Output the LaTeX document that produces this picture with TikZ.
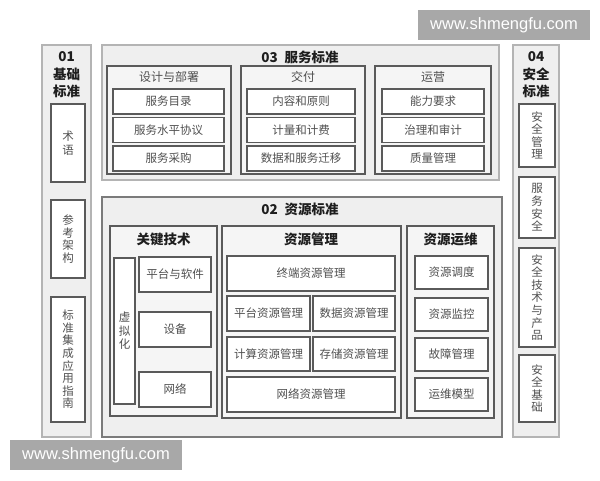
\documentclass[tikz,border=0pt]{standalone}
\usepackage{fontspec}
\setmainfont{Noto Sans CJK SC}
\newfontfamily\wmfont{Liberation Sans}
\definecolor{panelfill}{HTML}{EFEFEF}
\definecolor{paneldraw}{HTML}{B4B4B4}
\definecolor{groupfill}{HTML}{F5F5F5}
\definecolor{boxdraw}{HTML}{5A5A5A}
\definecolor{itemtext}{HTML}{505050}
\definecolor{titletext}{HTML}{1E1E1E}
\definecolor{wmfill}{HTML}{A8A8A8}
\newcommand\bx[7]{\node[#1, minimum width={(#5-#3)*1pt}, minimum height={(#6-#4)*1pt}] (#2) at ({(#3+#5)/2},{(#4+#6)/2}) {#7};}
\tikzset{
  panel/.style={draw=paneldraw, fill=panelfill, line width=1.4pt, inner sep=0pt},
  panel2/.style={draw=boxdraw!80, fill=panelfill, line width=1.4pt, inner sep=0pt},
  group/.style={draw=boxdraw, fill=groupfill, line width=1.2pt, inner sep=0pt},
  item/.style={draw=boxdraw, fill=white, line width=1.2pt, inner sep=0pt, text=itemtext, font=\fontsize{11.5}{12.5}\selectfont},
  vitem/.style={item, align=center, font=\fontsize{11.5}{12.6}\selectfont},
  ptitle/.style={text=titletext, font=\bfseries\fontsize{13.5}{15}\selectfont, inner sep=0pt, align=center},
  gtitle/.style={text=itemtext, font=\fontsize{12}{13}\selectfont, inner sep=0pt},
  btitle/.style={text=titletext, font=\bfseries\fontsize{13.5}{15}\selectfont, inner sep=0pt},
  wm/.style={fill=wmfill, text=white, font=\wmfont\fontsize{16.5}{18}\selectfont, inner sep=0pt}
}
\begin{document}
\begin{tikzpicture}[x=1pt,y=-1pt]
\useasboundingbox[fill=white] (0,0) rectangle (600,480);
% 01 column
\bx{panel}{p01}{42}{45}{91}{437}{}
\node[ptitle, font=\bfseries\fontsize{13.5}{17.5}\selectfont] (t01) at (66.5,75) {01\\基础\\标准};
\bx{vitem}{a1}{51}{104}{85}{182}{术\\[1pt]语}
\bx{vitem}{a2}{51}{200}{85}{278}{参\\考\\架\\构}
\bx{vitem}{a3}{51}{297}{85}{422}{标\\准\\集\\成\\应\\用\\指\\南}
% 04 column
\bx{panel}{p04}{513}{45}{559}{437}{}
\node[ptitle, font=\bfseries\fontsize{13.5}{17.5}\selectfont] (t04) at (536,75) {04\\安全\\标准};
\bx{vitem}{s1}{519}{104}{555}{167}{安\\全\\管\\理}
\bx{vitem}{s2}{519}{177}{555}{238}{服\\务\\安\\全}
\bx{vitem}{s3}{519}{248}{555}{347}{安\\全\\技\\术\\与\\产\\品}
\bx{vitem}{s4}{519}{355}{555}{422}{安\\全\\基\\础}
% 03 service standards
\bx{panel}{p03}{102}{45}{499}{180}{}
\node[ptitle] (t03) at (300,57) {03\hspace{7pt}服务标准};
\bx{group}{g1}{107}{66}{231}{174}{}
\node[gtitle] (g1t) at (169,77) {设计与部署};
\bx{item}{g1a}{113}{89}{224}{114}{服务目录}
\bx{item}{g1b}{113}{117.5}{224}{142.5}{服务水平协议}
\bx{item}{g1c}{113}{146}{224}{171}{服务采购}
\bx{group}{g2}{241}{66}{365}{174}{}
\node[gtitle] (g2t) at (303,77) {交付};
\bx{item}{g2a}{247}{89}{355}{114}{内容和原则}
\bx{item}{g2b}{247}{117.5}{355}{142.5}{计量和计费}
\bx{item}{g2c}{247}{146}{355}{171}{数据和服务迁移}
\bx{group}{g3}{375}{66}{491}{174}{}
\node[gtitle] (g3t) at (433,77) {运营};
\bx{item}{g3a}{382}{89}{484}{114}{能力要求}
\bx{item}{g3b}{382}{117.5}{484}{142.5}{治理和审计}
\bx{item}{g3c}{382}{146}{484}{171}{质量管理}
% 02 resource standards
\bx{panel2}{p02}{102}{197}{502}{437}{}
\node[ptitle] (t02) at (300,209) {02\hspace{7pt}资源标准};
\bx{group}{k}{110}{226}{217}{416}{}
\node[btitle] (kt) at (163.5,239) {关键技术};
\bx{vitem}{k0}{114}{258}{135}{404}{虚\\[1pt]拟\\[1pt]化}
\bx{item}{k1}{139}{257}{211}{292}{平台与软件}
\bx{item}{k2}{139}{312}{211}{347}{设备}
\bx{item}{k3}{139}{372}{211}{407}{网络}
\bx{group}{r}{222}{226}{401}{418}{}
\node[btitle] (rt) at (311,239) {资源管理};
\bx{item}{r1}{227}{256}{395}{291}{终端资源管理}
\bx{item}{r2}{227}{296}{310}{331}{平台资源管理}
\bx{item}{r3}{313}{296}{395}{331}{数据资源管理}
\bx{item}{r4}{227}{337}{310}{371}{计算资源管理}
\bx{item}{r5}{313}{337}{395}{371}{存储资源管理}
\bx{item}{r6}{227}{377}{395}{412}{网络资源管理}
\bx{group}{o}{407}{226}{494}{418}{}
\node[btitle] (ot) at (450.5,239) {资源运维};
\bx{item}{o1}{415}{256}{488}{289}{资源调度}
\bx{item}{o2}{415}{298}{488}{331}{资源监控}
\bx{item}{o3}{415}{338}{488}{371}{故障管理}
\bx{item}{o4}{415}{378}{488}{411}{运维模型}
% watermarks
\bx{wm}{w1}{418}{10}{590}{40}{www.shmengfu.com}
\bx{wm}{w2}{10}{440}{182}{470}{www.shmengfu.com}
\end{tikzpicture}
\end{document}
